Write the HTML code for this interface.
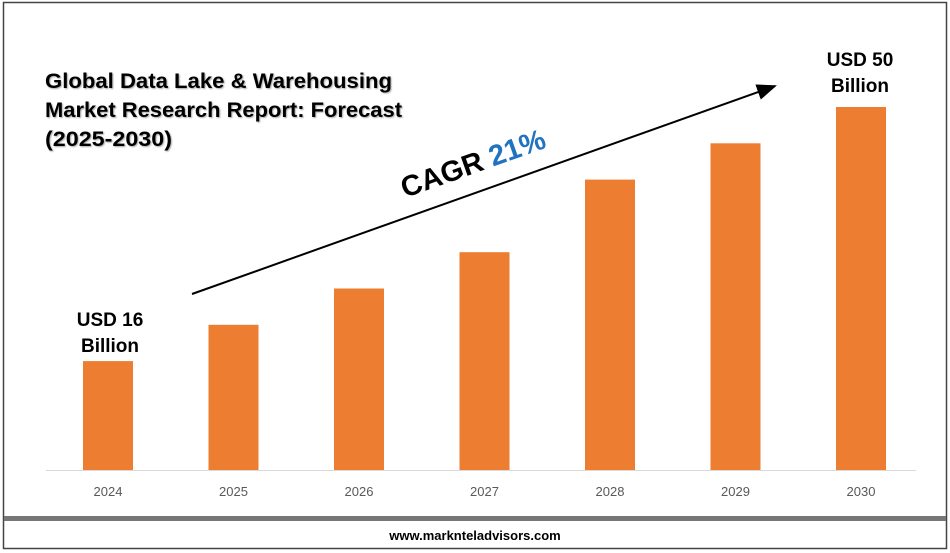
<!DOCTYPE html>
<html><head><meta charset="utf-8"><style>
body{margin:0;width:950px;height:553px;background:#fff;overflow:hidden;font-family:"Liberation Sans",sans-serif}
svg{display:block}
</style></head><body>
<svg width="950" height="553" viewBox="0 0 950 553">
<defs><filter id="sh"><feDropShadow dx="1" dy="1" stdDeviation="0.8" flood-color="#000" flood-opacity="0.35"/></filter>
<marker id="ah" markerWidth="10" markerHeight="8" refX="9" refY="4" orient="auto"><path d="M0,0 L10,4 L0,8z" fill="#000"/></marker></defs>
<rect x="3.5" y="2.5" width="943" height="546" fill="#fff" stroke="#444" stroke-width="1.5"/>
<rect x="4" y="516" width="942" height="5" fill="#777"/>
<line x1="46" y1="470.5" x2="916" y2="470.5" stroke="#d9d9d9" stroke-width="1"/>
<g id="bars"></g><g id="xlabels"></g>
<g filter="url(#sh)" font-weight="bold" font-size="21" fill="#000">
<text x="45" y="88" textLength="347" lengthAdjust="spacingAndGlyphs">Global Data Lake &amp; Warehousing</text>
<text x="45" y="117" textLength="357" lengthAdjust="spacingAndGlyphs">Market Research Report: Forecast</text>
<text x="45" y="146" textLength="127" lengthAdjust="spacingAndGlyphs">(2025-2030)</text>
</g>
<text x="110" y="326" text-anchor="middle" font-weight="bold" font-size="19">USD 16</text>
<text x="110" y="352" text-anchor="middle" font-weight="bold" font-size="19">Billion</text>
<text x="860" y="66" text-anchor="middle" font-weight="bold" font-size="19">USD 50</text>
<text x="860" y="92" text-anchor="middle" font-weight="bold" font-size="19">Billion</text>
<line x1="192" y1="294" x2="775" y2="86" stroke="#000" stroke-width="2" marker-end="url(#ah)"/>
<text transform="translate(405,198) rotate(-19.6)" font-weight="bold" font-size="29"><tspan fill="#000">CAGR </tspan><tspan fill="#1f73c1">21%</tspan></text>
<text x="475" y="540" text-anchor="middle" font-weight="bold" font-size="13">www.marknteladvisors.com</text>
</svg>
<script>
const years=["2024","2025","2026","2027","2028","2029","2030"];
const values=[15,20,25,30,40,45,50];
const x0=108,dx=125.5,base=470,pxPerUnit=7.26,bw=50;
const xs=i=>x0+i*dx, ys=v=>base-v*pxPerUnit;
const NS="http://www.w3.org/2000/svg";
const bars=document.getElementById('bars'),xl=document.getElementById('xlabels');
years.forEach((y,i)=>{
 const r=document.createElementNS(NS,'rect');
 r.setAttribute('x',xs(i)-bw/2);r.setAttribute('y',ys(values[i]));
 r.setAttribute('width',bw);r.setAttribute('height',base-ys(values[i]));
 r.setAttribute('fill','#ed7d31');
 
 
 bars.appendChild(r);
 const t=document.createElementNS(NS,'text');
 t.setAttribute('x',xs(i));t.setAttribute('y',496);t.setAttribute('text-anchor','middle');
 t.setAttribute('font-size','13');t.setAttribute('fill','#595959');
 t.textContent=y;
 
 
 xl.appendChild(t);
});
</script>
</body></html>
